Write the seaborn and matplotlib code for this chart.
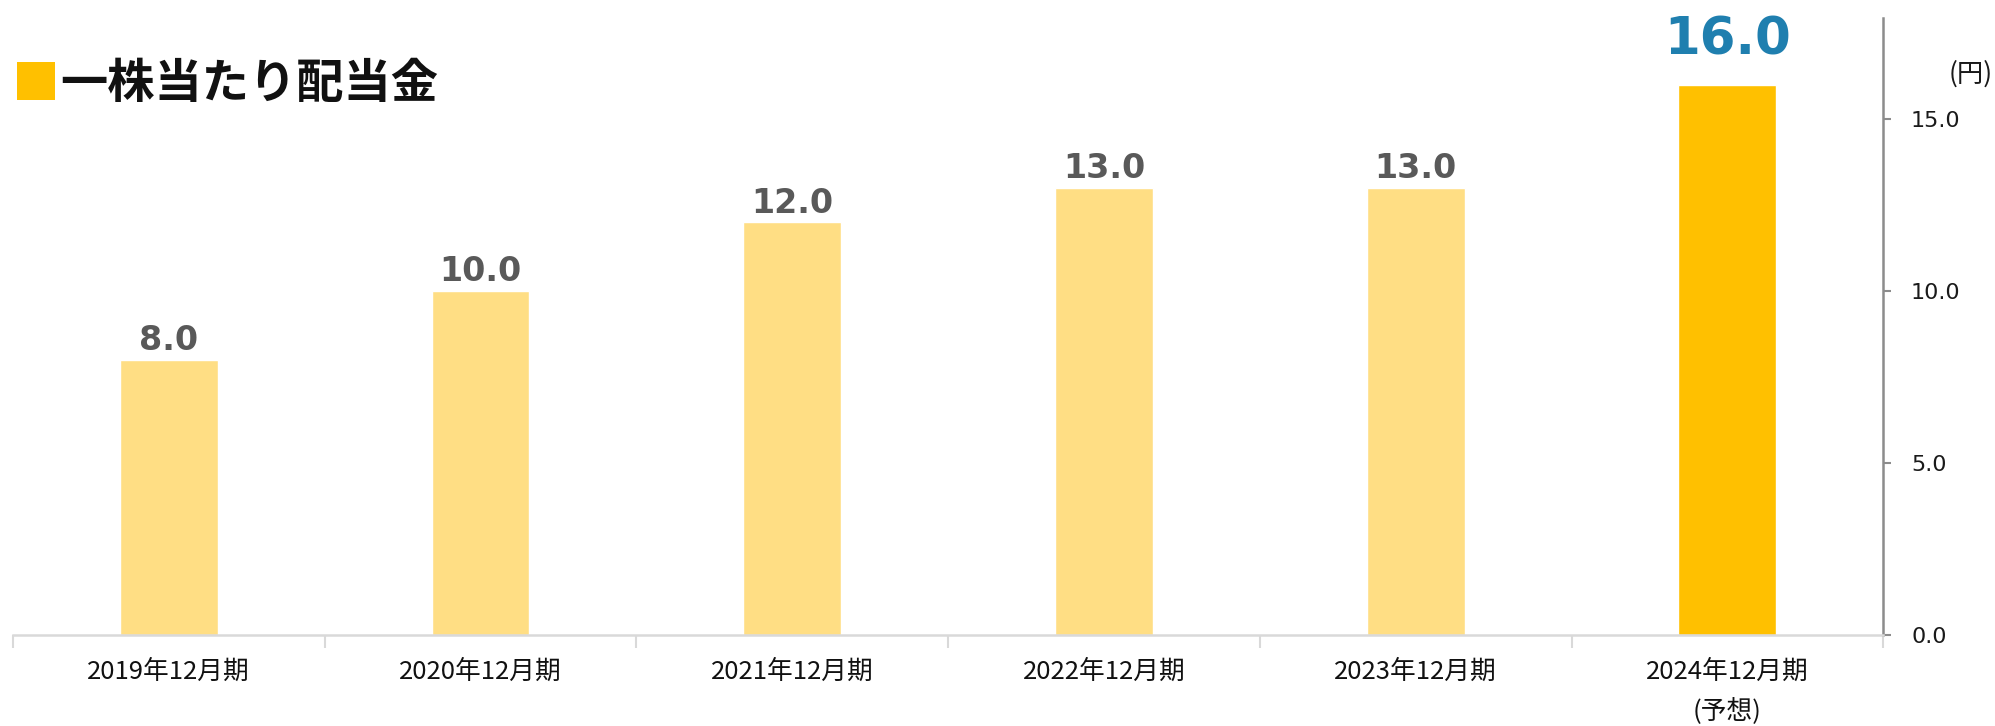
import matplotlib
matplotlib.use("Agg")
import matplotlib.pyplot as plt
import seaborn as sns
import pandas as pd
from matplotlib.patches import Rectangle

categories = ["2019年12月期", "2020年12月期", "2021年12月期", "2022年12月期", "2023年12月期", "2024年12月期\n(予想)"]
values = [8.0, 10.0, 12.0, 13.0, 13.0, 16.0]
bar_colors = ["#FFDE84", "#FFDE84", "#FFDE84", "#FFDE84", "#FFDE84", "#FFC000"]
yticks = [0.0, 5.0, 10.0, 15.0]
title = "一株当たり配当金"
unit = "(円)"

sns.set_theme(style="white")
plt.rcParams['font.family'] = ['Noto Sans CJK JP', 'DejaVu Sans']

fig = plt.figure(figsize=(19.95, 7.26), dpi=100)
ax = fig.add_axes([0.0065, 0.1253, 0.944 - 0.0065, 0.978 - 0.1253])

df = pd.DataFrame({"cat": categories, "val": values})
sns.barplot(data=df, x="cat", y="val", hue="cat", palette=bar_colors,
            legend=False, width=0.314, ax=ax, saturation=1)

ax.set_xlim(-0.5, len(categories) - 0.5)
ax.set_ylim(0, 18)
ax.set_xlabel("")
ax.set_ylabel("")

# value labels
for i, v in enumerate(values):
    if i == len(values) - 1:
        ax.annotate(f"{v:.1f}", (i, v), xytext=(0, 14), textcoords="offset points",
                    ha="center", va="bottom", fontsize=37, fontweight="bold",
                    color="#1F7FAF", family="DejaVu Sans")
    else:
        ax.annotate(f"{v:.1f}", (i, v), xytext=(0, 2), textcoords="offset points",
                    ha="center", va="bottom", fontsize=24, fontweight="bold",
                    color="#595959", family="DejaVu Sans")

# y axis on the right
ax.yaxis.tick_right()
ax.set_yticks(yticks)
ax.set_yticklabels([f"{t:.1f}" for t in yticks], fontsize=16, color="#1a1a1a", family="DejaVu Sans")
ax.tick_params(axis="y", direction="out", length=6, width=1.5, color="#8C8C8C", pad=14, right=True)

# x axis ticks at category boundaries
ax.set_xticks(range(len(categories)))
ax.set_xticklabels(categories, fontsize=18.5, color="#111111", linespacing=1.65)
ax.tick_params(axis="x", length=0, pad=17)
ax.set_xticks([i - 0.5 for i in range(len(categories) + 1)], minor=True)
ax.tick_params(axis="x", which="minor", direction="out", length=9, width=1.5, color="#D9D9D9", bottom=True)
for lbl in ax.get_xticklabels():
    lbl.set_verticalalignment("top")

for s in ["top", "left"]:
    ax.spines[s].set_visible(False)
ax.spines["bottom"].set_color("#D9D9D9")
ax.spines["bottom"].set_linewidth(1.8)
ax.spines["right"].set_color("#8C8C8C")
ax.spines["right"].set_linewidth(1.8)
ax.spines["right"].set_bounds(0, 17.95)
ax.grid(False)

# title with yellow square
fig.patches.append(Rectangle((17 / 1995, 1 - 100 / 726), 38 / 1995, 38 / 726,
                             transform=fig.transFigure, facecolor="#FFC000", edgecolor="none"))
fig.text(60 / 1995, 1 - 84 / 726, title, fontsize=34, fontweight="bold",
         color="#111111", ha="left", va="center")

fig.text(1993 / 1995, 1 - 74 / 726, unit, fontsize=19, color="#1a1a1a", ha="right", va="center")

fig.savefig("out.png", dpi=100)
